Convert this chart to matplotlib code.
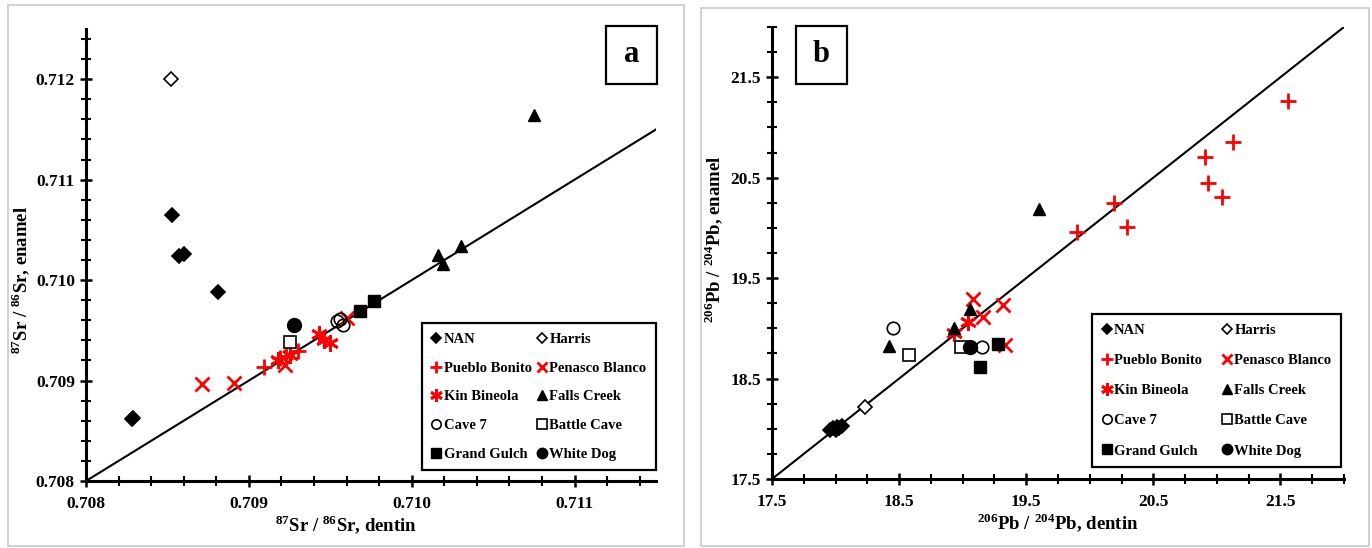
import matplotlib
matplotlib.use("Agg")
import matplotlib.pyplot as plt
from matplotlib.ticker import MultipleLocator, FormatStrFormatter
from matplotlib.patches import Rectangle

plt.rcParams['font.family'] = ['Liberation Serif', 'DejaVu Serif']
plt.rcParams['mathtext.fontset'] = 'custom'
plt.rcParams['mathtext.rm'] = 'Liberation Serif:bold'
plt.rcParams['mathtext.bf'] = 'Liberation Serif:bold'

# ---------------- Data: panel a (87Sr/86Sr) ----------------
series_names = ["NAN", "Harris", "Pueblo Bonito", "Penasco Blanco", "Kin Bineola",
                "Falls Creek", "Cave 7", "Battle Cave", "Grand Gulch", "White Dog"]

nan_a_x = [0.70853, 0.70857, 0.70860, 0.70881, 0.70828, 0.70829]
nan_a_y = [0.71065, 0.71024, 0.71026, 0.70988, 0.70862, 0.70863]
harris_a_x = [0.70852]
harris_a_y = [0.71200]
pueblo_a_x = [0.70909, 0.70919, 0.70923, 0.70930]
pueblo_a_y = [0.70913, 0.70922, 0.70924, 0.70929]
penasco_a_x = [0.70871, 0.70891, 0.70922, 0.70960]
penasco_a_y = [0.70897, 0.70898, 0.70915, 0.70962]
kin_a_x = [0.70918, 0.70925, 0.70943, 0.70946, 0.70950]
kin_a_y = [0.70920, 0.70925, 0.70946, 0.70940, 0.70937]
falls_a_x = [0.71075, 0.71016, 0.71019, 0.71030]
falls_a_y = [0.71164, 0.71025, 0.71016, 0.71034]
cave7_a_x = [0.70954, 0.70956, 0.70958]
cave7_a_y = [0.70959, 0.70961, 0.70955]
battle_a_x = [0.70925]
battle_a_y = [0.70938]
grand_a_x = [0.70968, 0.70977]
grand_a_y = [0.70969, 0.70979]
white_a_x = [0.70928]
white_a_y = [0.70955]

# ---------------- Data: panel b (206Pb/204Pb) ----------------
nan_b_x = [17.96, 17.98, 18.00, 18.01, 18.03, 18.05]
nan_b_y = [17.99, 18.01, 17.99, 18.02, 18.01, 18.03]
harris_b_x = [18.23]
harris_b_y = [18.22]
pueblo_b_x = [19.90, 20.19, 20.29, 20.91, 20.93, 21.04, 21.13, 21.56]
pueblo_b_y = [19.96, 20.25, 20.01, 20.71, 20.45, 20.31, 20.86, 21.26]
penasco_b_x = [19.08, 19.32, 19.16, 19.33]
penasco_b_y = [19.29, 19.23, 19.11, 18.83]
kin_b_x = [18.93, 19.04]
kin_b_y = [18.95, 19.06]
falls_b_x = [18.42, 18.93, 19.06, 19.60]
falls_b_y = [18.82, 19.00, 19.19, 20.19]
cave7_b_x = [18.45, 19.15]
cave7_b_y = [19.00, 18.81]
battle_b_x = [18.58, 18.99]
battle_b_y = [18.73, 18.81]
grand_b_x = [19.28, 19.14]
grand_b_y = [18.84, 18.62]
white_b_x = [19.06]
white_b_y = [18.81]

panel_a = [(nan_a_x, nan_a_y), (harris_a_x, harris_a_y), (pueblo_a_x, pueblo_a_y),
           (penasco_a_x, penasco_a_y), (kin_a_x, kin_a_y), (falls_a_x, falls_a_y),
           (cave7_a_x, cave7_a_y), (battle_a_x, battle_a_y), (grand_a_x, grand_a_y),
           (white_a_x, white_a_y)]
panel_b = [(nan_b_x, nan_b_y), (harris_b_x, harris_b_y), (pueblo_b_x, pueblo_b_y),
           (penasco_b_x, penasco_b_y), (kin_b_x, kin_b_y), (falls_b_x, falls_b_y),
           (cave7_b_x, cave7_b_y), (battle_b_x, battle_b_y), (grand_b_x, grand_b_y),
           (white_b_x, white_b_y)]

RED = '#ff0000'
styles = [
    dict(marker='D', ms=7, mfc='black', mec='black', mew=1.2),
    dict(marker='D', ms=7, mfc='white', mec='black', mew=1.2),
    dict(marker='+', ms=12, mfc=RED, mec=RED, mew=2.0),
    dict(marker='x', ms=10, mfc=RED, mec=RED, mew=2.0),
    dict(marker=(6, 2, 0), ms=12, mfc=RED, mec=RED, mew=2.0),
    dict(marker='^', ms=9, mfc='black', mec='black', mew=1.0),
    dict(marker='o', ms=9, mfc='none', mec='black', mew=1.2),
    dict(marker='s', ms=9, mfc='white', mec='black', mew=1.2),
    dict(marker='s', ms=9, mfc='black', mec='black', mew=1.0),
    dict(marker='o', ms=10, mfc='black', mec='black', mew=1.0),
]

W, H = 1372, 548
fig = plt.figure(figsize=(W / 100, H / 100), dpi=100)

# panel frames
fig.patches.append(Rectangle((8 / W, 2 / H), 676 / W, 541 / H, transform=fig.transFigure,
                             fill=False, edgecolor='#c8c8c8', lw=1.2))
fig.patches.append(Rectangle((701 / W, 2 / H), 668 / W, 538 / H, transform=fig.transFigure,
                             fill=False, edgecolor='#c8c8c8', lw=1.2))

ax_a = fig.add_axes([86 / W, (H - 481) / H, 570 / W, 452 / H])
ax_b = fig.add_axes([772 / W, (H - 479) / H, 572 / W, 452 / H])

def style_axes(ax, xlim, ylim, major, minor, fmt):
    ax.set_xlim(*xlim)
    ax.set_ylim(*ylim)
    for s in ['top', 'right']:
        ax.spines[s].set_visible(False)
    for s in ['left', 'bottom']:
        ax.spines[s].set_linewidth(2.2)
    ax.xaxis.set_major_locator(MultipleLocator(major))
    ax.yaxis.set_major_locator(MultipleLocator(major))
    ax.xaxis.set_minor_locator(MultipleLocator(minor))
    ax.yaxis.set_minor_locator(MultipleLocator(minor))
    ax.xaxis.set_major_formatter(FormatStrFormatter(fmt))
    ax.yaxis.set_major_formatter(FormatStrFormatter(fmt))
    ax.tick_params(which='major', direction='inout', length=9, width=1.8, labelsize=12.5)
    ax.tick_params(which='minor', direction='inout', length=7, width=1.5)
    ax.tick_params(axis='x', which='major', pad=6)
    for lab in ax.get_xticklabels() + ax.get_yticklabels():
        lab.set_fontweight('bold')

def draw(ax, data, lo, hi):
    ax.plot([lo, hi], [lo, hi], color='black', lw=1.5, zorder=1)
    handles = []
    for (xs, ys), name, st in zip(data, series_names, styles):
        h, = ax.plot(xs, ys, linestyle='none', label=name, zorder=3, **st)
        handles.append(h)
    order = [0, 2, 4, 6, 8, 1, 3, 5, 7, 9]
    return [handles[i] for i in order], [series_names[i] for i in order]

ha, la = draw(ax_a, panel_a, 0.708, 0.7115)
style_axes(ax_a, (0.708, 0.7115), (0.708, 0.7125), 0.001, 0.0002, '%.3f')
hb, lb = draw(ax_b, panel_b, 17.5, 22.0)
style_axes(ax_b, (17.5, 22.0), (17.5, 22.0), 1.0, 0.25, '%.1f')
ax_b.set_xticks([17.5, 18.5, 19.5, 20.5, 21.5])
ax_b.set_yticks([17.5, 18.5, 19.5, 20.5, 21.5])
for lab in ax_b.get_xticklabels() + ax_b.get_yticklabels():
    lab.set_fontweight('bold')

def legend(ax, handles, labels, x0, y0, w, spacing):
    leg = ax.legend(handles, labels, ncol=2, loc='lower left',
                    bbox_to_anchor=(x0, y0, w, 0.3), mode='expand',
                    prop={'family': 'Liberation Serif', 'weight': 'bold', 'size': 10.5},
                    fancybox=False, edgecolor='black', framealpha=1,
                    handlelength=0.7, handletextpad=0.15, labelspacing=spacing,
                    borderpad=0.65, markerscale=0.75, borderaxespad=0)
    leg.get_frame().set_linewidth(1.6)
    return leg

legend(ax_a, ha, la, 0.589, 0.024, 0.411, 1.06)
legend(ax_b, hb, lb, (1092 - 772) / 572, (479 - 467) / 452, (1341 - 1092) / 572, 1.16)

# axis labels
ax_a.set_xlabel(r'$^{87}$Sr / $^{86}$Sr, dentin', fontsize=13.5, fontweight='bold')
ax_a.xaxis.set_label_coords(0.456, -0.073)
ax_a.set_ylabel(r'$^{87}$Sr / $^{86}$Sr, enamel', fontsize=13.5, fontweight='bold')
ax_a.yaxis.set_label_coords((33 - 86) / 570, 0.445)

ax_b.set_xlabel(r'$^{206}$Pb / $^{204}$Pb, dentin', fontsize=13.5, fontweight='bold')
ax_b.xaxis.set_label_coords(0.5, -0.073)
ax_b.set_ylabel(r'$^{206}$Pb / $^{204}$Pb, enamel', fontsize=13.5, fontweight='bold')
ax_b.yaxis.set_label_coords((726 - 772) / 572, 0.53)

# panel letters
def letter(x0, x1, y0, y1, txt):
    fig.patches.append(Rectangle((x0 / W, (H - y1) / H), (x1 - x0) / W, (y1 - y0) / H,
                                 transform=fig.transFigure, fill=False,
                                 edgecolor='black', lw=1.6))
    fig.text((x0 + x1) / 2 / W, (H - (y0 + y1) / 2) / H, txt, ha='center', va='center',
             fontsize=22, fontweight='bold', family='Liberation Serif')

letter(606, 657, 26, 84, 'a')
letter(796, 847, 26, 84, 'b')

fig.savefig('out.png', dpi=100)
